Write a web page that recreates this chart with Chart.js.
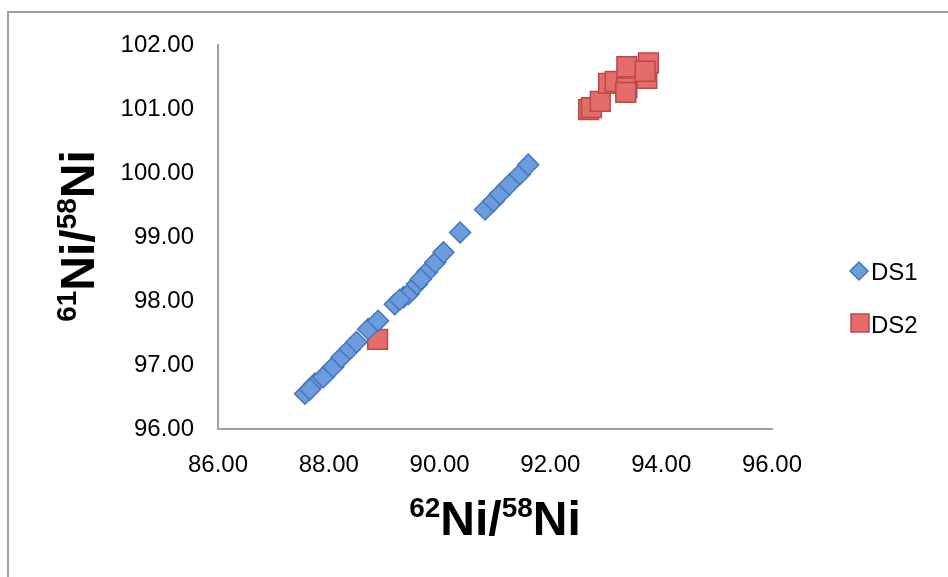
<!DOCTYPE html>
<html>
<head>
<meta charset="utf-8">
<script src="https://cdn.jsdelivr.net/npm/chart.js@4.4.1/dist/chart.umd.min.js"></script>
<style>
  html, body { margin: 0; padding: 0; background: #fff; }
  #wrap { width: 948px; height: 577px; position: relative; }
</style>
</head>
<body>
<div id="wrap"><canvas id="myChart"></canvas></div>
<script>
// DS1 (blue diamonds)
const ds1X = [87.57, 87.75, 87.90, 88.08, 88.23, 88.38, 88.50, 88.71, 88.89, 89.19, 89.35, 89.44,
  89.59, 89.77, 89.92, 90.07, 90.37, 90.82, 90.97, 91.09, 91.26, 91.45, 91.60, 89.28, 89.66, 87.66];
const ds1Y = [96.55, 96.71, 96.81, 96.97, 97.12, 97.25, 97.36, 97.56, 97.69, 97.95, 98.06, 98.11,
  98.26, 98.45, 98.60, 98.76, 99.07, 99.43, 99.56, 99.67, 99.82, 99.98, 100.13, 98.02, 98.34, 96.62];
// DS2 (red squares)
const ds2X = [88.88, 92.69, 92.74, 92.90, 93.05, 93.17, 93.38, 93.38, 93.74, 93.77, 93.71, 93.36];
const ds2Y = [97.40, 100.99, 101.02, 101.12, 101.40, 101.43, 101.33, 101.66, 101.48, 101.72, 101.59, 101.26];

const xTicks = [86, 88, 90, 92, 94, 96];
const yTicks = [96, 97, 98, 99, 100, 101, 102];
const seriesNames = ["DS1", "DS2"];

const FONT = "'Liberation Sans', Arial, sans-serif";
const blueFill = "rgb(108,156,222)";
const blueLine = "rgb(70,120,185)";
const redFill = "rgb(228,108,106)";
const redLine = "rgb(188,72,70)";

const toPoints = (xs, ys) => xs.map((x, i) => ({ x: x, y: ys[i] }));

// frame, axis titles with superscripts, legend
const decor = {
  id: "decor",
  beforeDraw(chart) {
    const ctx = chart.ctx;
    ctx.save();
    ctx.strokeStyle = "#a0a0a0";
    ctx.lineWidth = 2;
    ctx.strokeRect(8, 12, 1000, 700);
    ctx.restore();
  },
  afterDraw(chart) {
    const ctx = chart.ctx;
    const drawTitle = (sup1, sup2) => {
      const big = "bold 48px " + FONT;
      const small = "bold 28px " + FONT;
      const parts = [[sup1, small, -18], ["Ni/", big, 0], [sup2, small, -18], ["Ni", big, 0]];
      let w = 0;
      parts.forEach((p) => { ctx.font = p[1]; w += ctx.measureText(p[0]).width; });
      let x = -w / 2;
      parts.forEach((p) => {
        ctx.font = p[1];
        ctx.fillText(p[0], x, p[2]);
        x += ctx.measureText(p[0]).width;
      });
    };
    ctx.save();
    ctx.fillStyle = "#000";
    ctx.textBaseline = "alphabetic";
    ctx.textAlign = "left";
    ctx.translate(495, 535);
    drawTitle("62", "58");
    ctx.restore();

    ctx.save();
    ctx.fillStyle = "#000";
    ctx.textBaseline = "alphabetic";
    ctx.textAlign = "left";
    ctx.translate(94, 236);
    ctx.rotate(-Math.PI / 2);
    drawTitle("61", "58");
    ctx.restore();

    // legend
    ctx.save();
    ctx.font = "24px " + FONT;
    ctx.textBaseline = "middle";
    ctx.fillStyle = "#000";
    ctx.lineWidth = 1.5;
    // diamond
    ctx.beginPath();
    ctx.moveTo(859, 262); ctx.lineTo(868, 271); ctx.lineTo(859, 280); ctx.lineTo(850, 271); ctx.closePath();
    ctx.fillStyle = blueFill; ctx.strokeStyle = blueLine; ctx.fill(); ctx.stroke();
    ctx.fillStyle = "#000";
    ctx.fillText(seriesNames[0], 871, 273);
    // square
    ctx.fillStyle = redFill; ctx.strokeStyle = redLine;
    ctx.fillRect(851, 314, 18, 18); ctx.strokeRect(851, 314, 18, 18);
    ctx.fillStyle = "#000";
    ctx.fillText(seriesNames[1], 871, 326);
    ctx.restore();
  }
};

new Chart(document.getElementById("myChart"), {
  type: "scatter",
  data: {
    datasets: [
      {
        label: seriesNames[0],
        data: toPoints(ds1X, ds1Y),
        pointStyle: "rectRot",
        pointRadius: 10.5,
        pointHoverRadius: 10.5,
        backgroundColor: blueFill,
        borderColor: blueLine,
        borderWidth: 1.5,
      },
      {
        label: seriesNames[1],
        data: toPoints(ds2X, ds2Y),
        pointStyle: "rect",
        pointRadius: 14,
        pointHoverRadius: 14,
        backgroundColor: redFill,
        borderColor: redLine,
        borderWidth: 1.5,
      },
    ],
  },
  options: {
    responsive: true,
    maintainAspectRatio: false,
    animation: false,
    layout: { padding: { top: 45, right: 176, left: 0, bottom: 0 } },
    plugins: { legend: { display: false }, tooltip: { enabled: false } },
    scales: {
      x: {
        type: "linear",
        min: xTicks[0],
        max: xTicks[xTicks.length - 1],
        afterBuildTicks: (s) => { s.ticks = xTicks.map((v) => ({ value: v })); },
        afterFit: (s) => { s.height = 148; },
        grid: { display: false, drawTicks: false },
        border: { display: true, color: "#a0a0a0", width: 2 },
        ticks: {
          padding: 22,
          color: "#000",
          font: { family: FONT, size: 24 },
          callback: (v) => Number(v).toFixed(2),
        },
      },
      y: {
        type: "linear",
        min: yTicks[0],
        max: yTicks[yTicks.length - 1],
        afterBuildTicks: (s) => { s.ticks = yTicks.map((v) => ({ value: v })); },
        afterFit: (s) => { s.width = 218; },
        grid: { display: false, drawTicks: false },
        border: { display: true, color: "#a0a0a0", width: 2 },
        ticks: {
          padding: 24,
          color: "#000",
          font: { family: FONT, size: 24 },
          callback: (v) => Number(v).toFixed(2),
        },
      },
    },
  },
  plugins: [decor],
});
</script>
</body>
</html>
